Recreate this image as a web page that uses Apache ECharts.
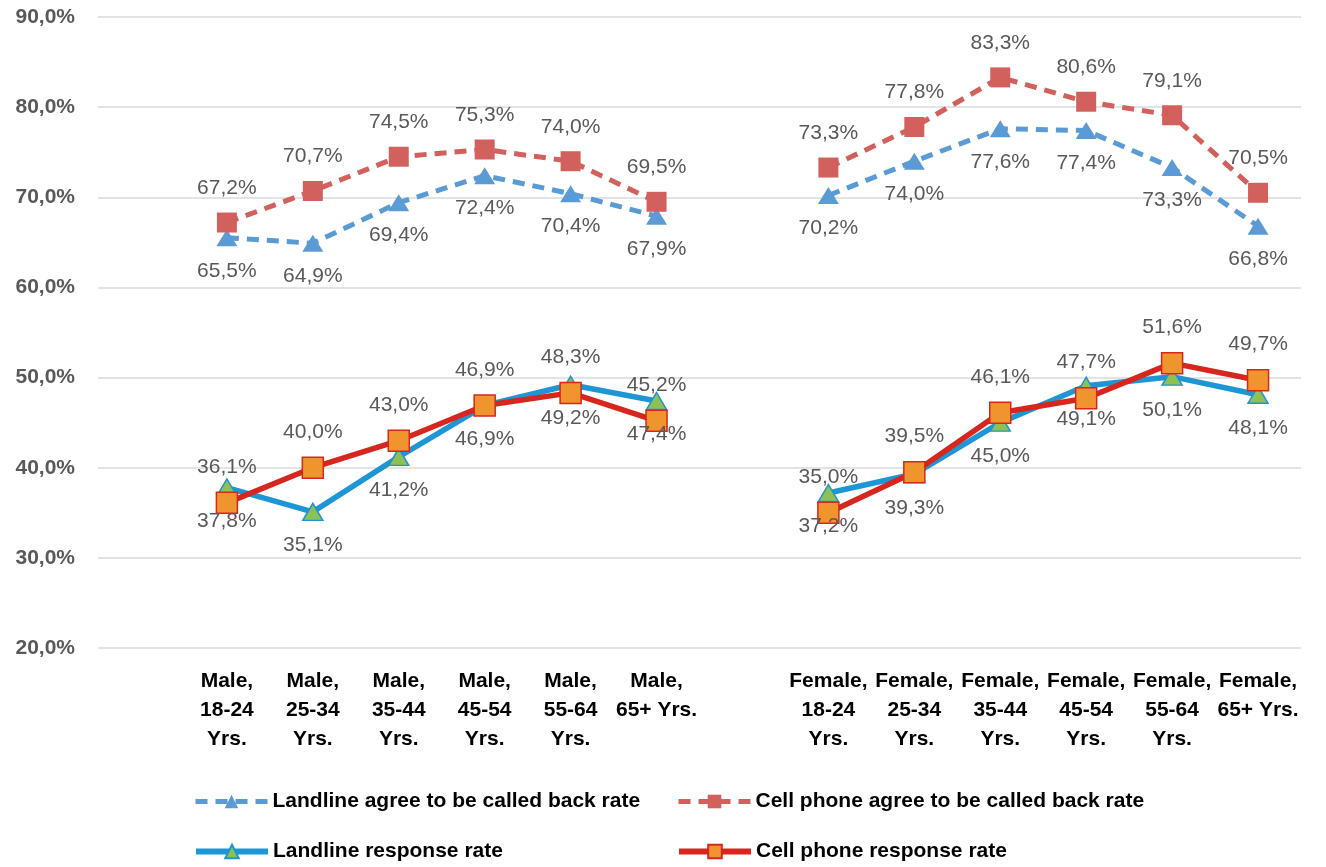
<!DOCTYPE html>
<html>
<head>
<meta charset="utf-8">
<script src="https://cdn.jsdelivr.net/npm/echarts@6/dist/echarts.min.js"></script>
<style>
  html, body { margin: 0; padding: 0; background: #fff; }
  #chart { width: 1326px; height: 867px; }
</style>
</head>
<body>
<div id="chart"></div>
<script>
// categories (blank slots keep the gaps at the start and between the groups)
var categories = [
  '',
  'Male,\n18-24\nYrs.', 'Male,\n25-34\nYrs.', 'Male,\n35-44\nYrs.',
  'Male,\n45-54\nYrs.', 'Male,\n55-64\nYrs.', 'Male,\n65+ Yrs.',
  '',
  'Female,\n18-24\nYrs.', 'Female,\n25-34\nYrs.', 'Female,\n35-44\nYrs.',
  'Female,\n45-54\nYrs.', 'Female,\n55-64\nYrs.', 'Female,\n65+ Yrs.'
];

var landlineAgree = [null, 65.5, 64.9, 69.4, 72.4, 70.4, 67.9, null, 70.2, 74.0, 77.6, 77.4, 73.3, 66.8];
var cellAgree = [null, 67.2, 70.7, 74.5, 75.3, 74.0, 69.5, null, 73.3, 77.8, 83.3, 80.6, 79.1, 70.5];
var landlineResponse = [null, 37.8, 35.1, 41.2, 46.9, 49.2, 47.4, null, 37.2, 39.3, 45.0, 49.1, 50.1, 48.1];
var cellResponse = [null, 36.1, 40.0, 43.0, 46.9, 48.3, 45.2, null, 35.0, 39.5, 46.1, 47.7, 51.6, 49.7];

var seriesNames = [
  'Landline agree to be called back rate',
  'Cell phone agree to be called back rate',
  'Landline response rate',
  'Cell phone response rate'
];

var FONT = "'Liberation Sans', Arial, sans-serif";

function pct(v) {
  return v.toFixed(1).replace('.', ',') + '%';
}

function label(pos) {
  return {
    show: true,
    position: pos,
    distance: 14,
    color: '#595959',
    fontSize: 21,
    fontFamily: FONT,
    formatter: function (p) { return pct(p.value); }
  };
}

function legendAt(name, left, top, lineW) {
  return {
    data: [name],
    left: left,
    top: top,
    padding: 0,
    itemWidth: 72,
    itemHeight: 17,
    lineStyle: { width: lineW },
    textStyle: { color: '#000', fontSize: 21, fontWeight: 'bold', fontFamily: FONT }
  };
}

var chart = echarts.init(document.getElementById('chart'));
chart.setOption({
  animation: false,
  grid: { left: 98, right: 25, top: 17, bottom: 219 },
  legend: [
    legendAt(seriesNames[0], 193, 791, 5),
    legendAt(seriesNames[1], 676, 791, 5),
    legendAt(seriesNames[2], 193, 841, 6),
    legendAt(seriesNames[3], 676, 841, 6)
  ],
  xAxis: {
    type: 'category',
    data: categories,
    boundaryGap: true,
    axisLine: { show: false },
    axisTick: { show: false },
    axisLabel: {
      interval: 0,
      margin: 19,
      color: '#000',
      fontSize: 21,
      fontWeight: 'bold',
      lineHeight: 29,
      fontFamily: FONT
    }
  },
  yAxis: {
    type: 'value',
    min: 20,
    max: 90,
    interval: 10,
    axisLine: { show: false },
    axisTick: { show: false },
    splitLine: { lineStyle: { color: '#E3E3E3', width: 2 } },
    axisLabel: {
      margin: 23,
      color: '#595959',
      fontSize: 21,
      fontWeight: 'bold',
      fontFamily: FONT,
      formatter: function (v) { return pct(v); }
    }
  },
  series: [
    {
      name: seriesNames[0],
      type: 'line',
      data: landlineAgree,
      symbol: 'triangle',
      symbolSize: [21, 17],
      itemStyle: { color: '#5B9BD5' },
      lineStyle: { color: '#5B9BD5', width: 5, type: [12, 8] },
      label: label('bottom')
    },
    {
      name: seriesNames[1],
      type: 'line',
      data: cellAgree,
      symbol: 'rect',
      symbolSize: 20,
      itemStyle: { color: '#D2605C' },
      lineStyle: { color: '#D2605C', width: 5, type: [12, 8] },
      label: label('top')
    },
    {
      name: seriesNames[2],
      type: 'line',
      data: landlineResponse,
      symbol: 'triangle',
      symbolSize: [20, 17],
      itemStyle: { color: '#8DC153', borderColor: '#1E96D6', borderWidth: 1.5 },
      lineStyle: { color: '#1E96D6', width: 5.5 },
      label: label('bottom')
    },
    {
      name: seriesNames[3],
      type: 'line',
      data: cellResponse,
      symbol: 'rect',
      symbolSize: 21,
      itemStyle: { color: '#F0952E', borderColor: '#D6261E', borderWidth: 1.5 },
      lineStyle: { color: '#D6261E', width: 5.5 },
      label: label('top')
    }
  ]
});
</script>
</body>
</html>
